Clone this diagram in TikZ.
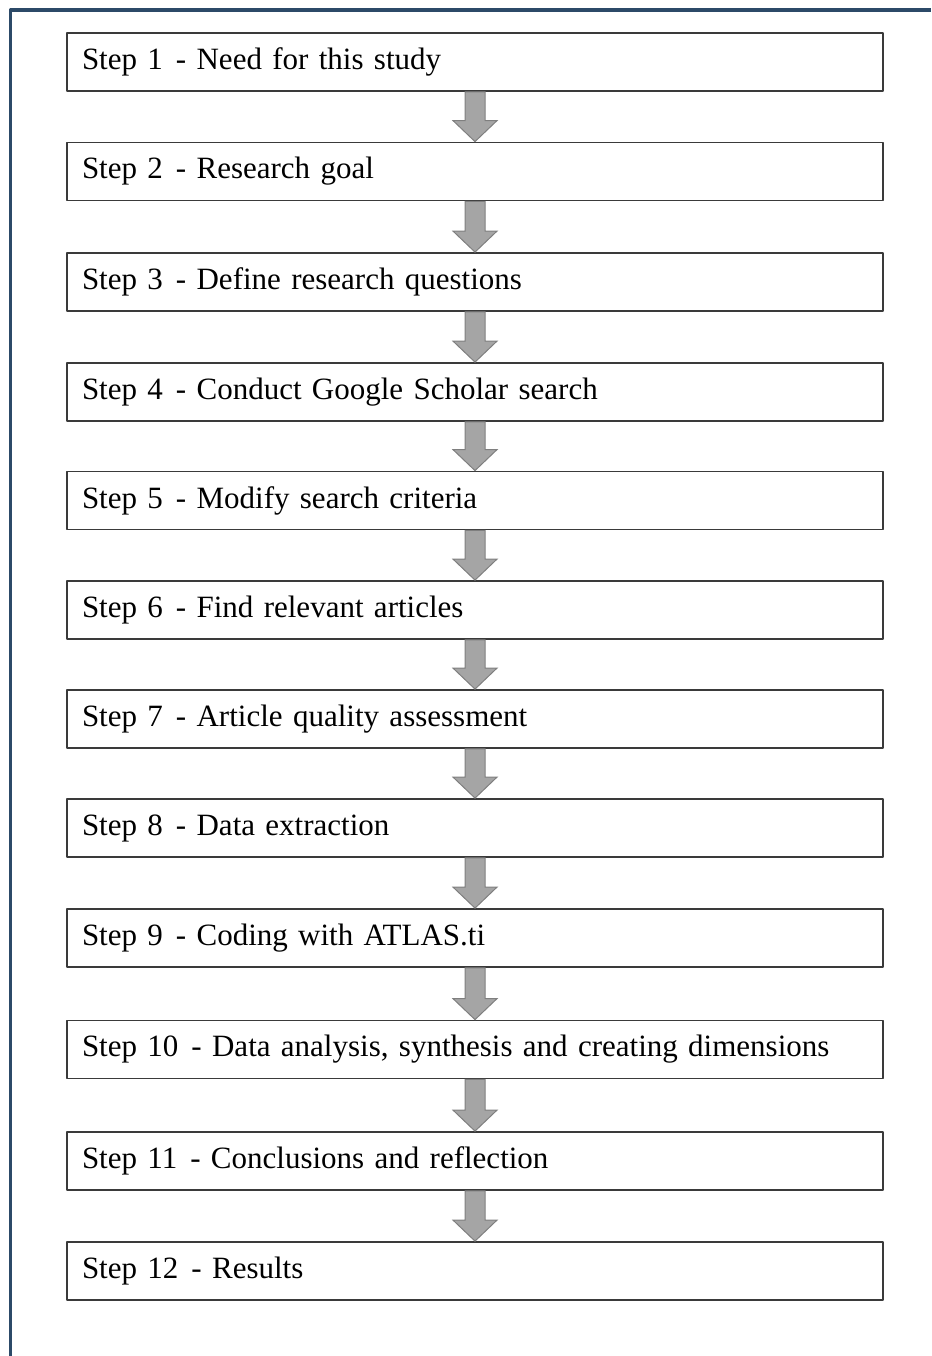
\documentclass[tikz,border=0pt]{standalone}
\usepackage{fontspec}
\setmainfont{Liberation Serif}
\usetikzlibrary{calc}
\definecolor{framblue}{HTML}{2C4A68}
\definecolor{boxline}{HTML}{3A3A3A}
\definecolor{arrowfill}{HTML}{A5A5A5}
\definecolor{arrowline}{HTML}{7F7F7F}
\tikzset{
	stepbox/.style={draw=boxline,line width=1.8pt,fill=white,minimum height=58pt,
		text width=786pt,inner xsep=15pt,inner ysep=0pt,align=left,
		font=\fontsize{31}{36}\selectfont},
	flowarrow/.style={fill=arrowfill,draw=arrowline,line width=1pt,line join=miter},
	frameline/.style={draw=framblue,line width=3.6pt}
}
\begin{document}
\begin{tikzpicture}[x=1pt,y=-1pt,line join=round]
			\useasboundingbox (0,0) rectangle (931,1356);
			\draw[frameline] (10.5,1356)--(10.5,10)--(931,10);
			\foreach \i/\ypos/\txt in {1/62/Need for this study,2/171.5/Research goal,
				3/282/Define research questions,4/392/Conduct Google Scholar search,
				5/500.5/Modify search criteria,6/610/Find relevant articles,
				7/719/Article quality assessment,8/828/Data extraction,
				9/938/Coding with ATLAS.ti,
				10/1049.5/{Data analysis, synthesis and creating dimensions},
				11/1161/Conclusions and reflection,12/1271/Results}
			\node[stepbox] (s\i) at (475,\ypos) {Step \i\hspace{0.42em}- \txt};
			% block arrows between the steps
			\foreach \i [evaluate=\i as \j using int(\i+1)] in {1,...,11}
			\draw[flowarrow] let \p1=(s\i.south), \p2=(s\j.north) in
			(\x1-10pt,\y1)--(\x1+10pt,\y1)--(\x1+10pt,\y2+21pt)--(\x1+22pt,\y2+21pt)
			--(\x1,\y2)--(\x1-22pt,\y2+21pt)--(\x1-10pt,\y2+21pt)--cycle;
		\end{tikzpicture}
\end{document}
